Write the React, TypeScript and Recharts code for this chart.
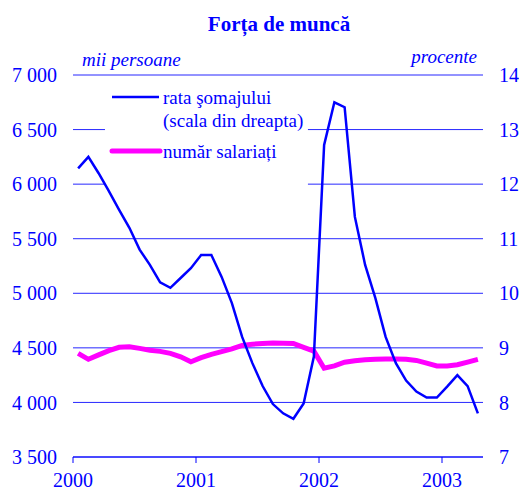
import { LineChart, Line, XAxis, YAxis, CartesianGrid, ReferenceArea } from "recharts";

// luni: ian 2000 - apr 2003, plasate la mijlocul lunii
const months = Array.from({ length: 40 }, (_, i) => 2000 + (i + 0.5) / 12);

// rata somajului, procente (scala din dreapta)
const rataSomaj = [
  12.29, 12.5, 12.2, 11.87, 11.53, 11.2, 10.8, 10.52, 10.2, 10.1, 10.28, 10.46,
  10.7, 10.7, 10.3, 9.82, 9.2, 8.72, 8.3, 7.97, 7.8, 7.7, 7.98, 8.84,
  12.72, 13.5, 13.41, 11.4, 10.52, 9.91, 9.2, 8.72, 8.4, 8.2, 8.09, 8.09,
  8.29, 8.5, 8.3, 7.8,
];

// numar salariati, mii persoane
const salariati = [
  4450, 4395, 4436, 4475, 4505, 4510, 4495, 4478, 4468, 4450, 4418, 4373,
  4410, 4441, 4465, 4490, 4523, 4534, 4540, 4545, 4543, 4540, 4505, 4470,
  4313, 4335, 4368, 4382, 4390, 4395, 4397, 4398, 4395, 4385, 4360, 4334,
  4334, 4345, 4370, 4395,
];

const leftTicks = [3500, 4000, 4500, 5000, 5500, 6000, 6500, 7000];
const rightTicks = [7, 8, 9, 10, 11, 12, 13, 14];
const yearTicks = [2000, 2001, 2002, 2003];

const data = months.map((t, i) => ({ t, rata: rataSomaj[i], salariati: salariati[i] }));

const BLUE = "#0000ff";
const MAGENTA = "#ff00ff";
const FONT = '"Liberation Serif", "Times New Roman", serif';

const fmt = (v: number) => String(v).replace(/\B(?=(\d{3})+(?!\d))/g, " ");

export default function App() {
  const tick = { fill: BLUE, fontSize: 20, fontFamily: FONT };
  return (
    <div style={{ position: "absolute", left: 0, top: 0, width: 519, height: 490, background: "#fff" }}>
      <LineChart
        width={519}
        height={490}
        data={data}
        margin={{ top: 75, right: 0, bottom: 0, left: 0 }}
      >
        <CartesianGrid yAxisId="left" vertical={false} stroke={BLUE} strokeOpacity={0.85} />
        <XAxis
          dataKey="t"
          type="number"
          domain={[2000, 2000 + 40 / 12]}
          ticks={yearTicks}
          height={33}
          axisLine={{ stroke: BLUE }}
          tickLine={{ stroke: BLUE }}
          tickSize={6}
          tickMargin={10}
          tick={tick}
        />
        <YAxis
          yAxisId="left"
          domain={[3500, 7000]}
          ticks={leftTicks}
          width={73}
          axisLine={false}
          tickLine={false}
          tickSize={6}
          tickMargin={10}
          tick={tick}
          tickFormatter={fmt}
        />
        <YAxis
          yAxisId="right"
          orientation="right"
          domain={[7, 14]}
          ticks={rightTicks}
          width={36}
          axisLine={false}
          tickLine={false}
          tickSize={6}
          tickMargin={10}
          tick={tick}
        />
        {/* fundal alb al legendei, sub linii dar peste grila */}
        <ReferenceArea
          yAxisId="left"
          x1={2000.26}
          x2={2001.91}
          y1={5946}
          y2={6936}
          fill="#fff"
          fillOpacity={1}
          stroke="none"
        />
        <Line
          yAxisId="left"
          dataKey="salariati"
          type="linear"
          stroke={MAGENTA}
          strokeWidth={5}
          dot={false}
          isAnimationActive={false}
        />
        <Line
          yAxisId="right"
          dataKey="rata"
          type="linear"
          stroke={BLUE}
          strokeWidth={2.5}
          dot={false}
          isAnimationActive={false}
        />
      </LineChart>
      <svg
        width={519}
        height={490}
        style={{ position: "absolute", left: 0, top: 0, pointerEvents: "none" }}
        fontFamily={FONT}
        fill={BLUE}
      >
        <text x={279} y={31} textAnchor="middle" fontSize={21} fontWeight="bold">
          Forța de muncă
        </text>
        <text x={82} y={66} fontSize={19} fontStyle="italic">
          mii persoane
        </text>
        <text x={477} y={63} textAnchor="end" fontSize={19} fontStyle="italic">
          procente
        </text>
        <line x1={112} x2={159} y1={97} y2={97} stroke={BLUE} strokeWidth={2.5} />
        <text x={163} y={104} fontSize={19}>
          rata şomajului
        </text>
        <text x={163} y={127} fontSize={19}>
          (scala din dreapta)
        </text>
        <line x1={112} x2={160} y1={151} y2={151} stroke={MAGENTA} strokeWidth={5} strokeLinecap="round" />
        <text x={163} y={158} fontSize={19}>
          număr salariați
        </text>
      </svg>
    </div>
  );
}
